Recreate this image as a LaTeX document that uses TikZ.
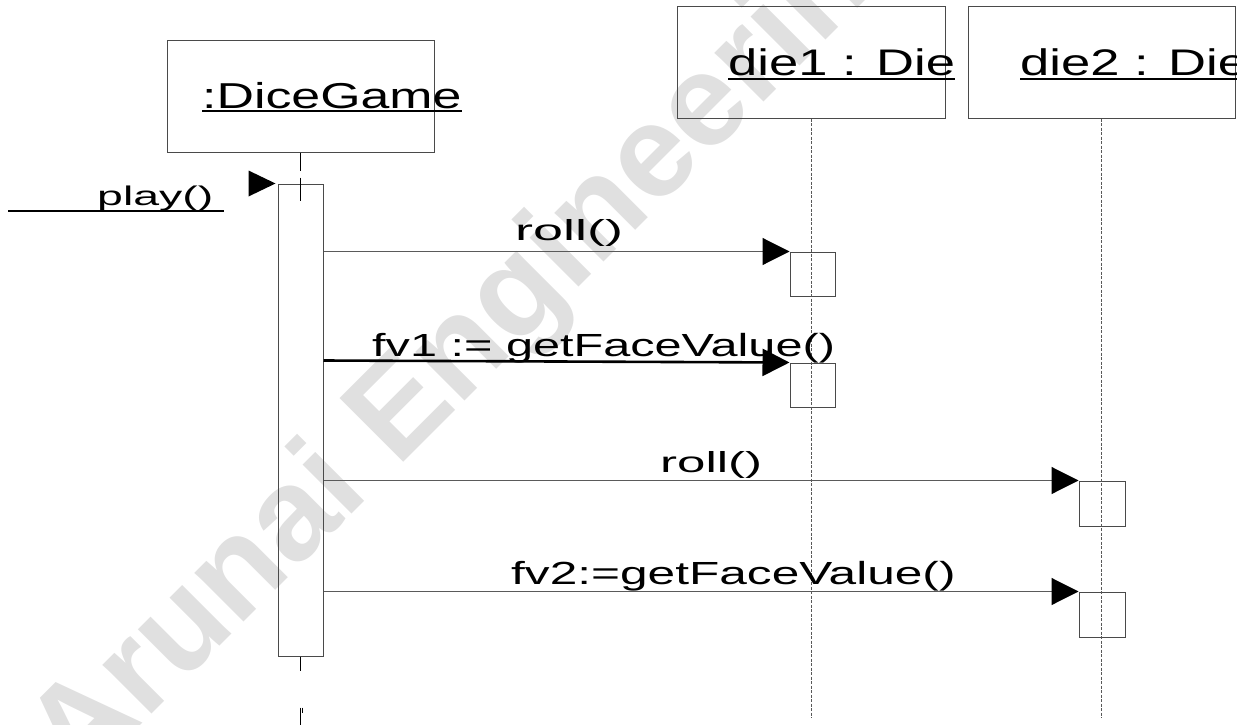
\documentclass[tikz,border=0pt]{standalone}
\usepackage{fontspec}
\setmainfont{Liberation Sans}
\usetikzlibrary{arrows.meta,calc}
\newcommand\hsq[2]{\scalebox{#1}[1]{#2}}
\definecolor{boxline}{HTML}{4A4A4A}
\definecolor{msgline}{HTML}{5A5A5A}
\definecolor{wmgray}{HTML}{E0E0E0}
\begin{document}
\begin{tikzpicture}[x=1pt,y=-1pt,
  objbox/.style={draw=boxline, line width=1pt, inner sep=0pt},
  txt/.style={inner sep=0pt, anchor=base west, text=black},
  uline/.style={line width=2.8pt, black},
  msg/.style={draw=msgline, line width=1.1pt, -{Triangle[length=27pt,width=27pt,black]}},
  msgbold/.style={draw=black, line width=2.6pt, -{Triangle[length=27pt,width=27pt,black]}},
  lifeline/.style={draw=black!65, line width=0.8pt, dash pattern=on 3pt off 1.5pt},
  gline/.style={draw=black, line width=1pt}]
\useasboundingbox (0,0) rectangle (1237,725);
\clip (0,0) rectangle (1237,725);
% watermark
\node[rotate=45, anchor=base west, inner sep=0pt, text=wmgray,
      font=\fontsize{131pt}{136pt}\selectfont\bfseries] (wm) at (78,788) {Arunai Engineering};
% object boxes
\node[objbox, minimum width=267pt, minimum height=111pt] (dg) at (300.5,96.5) {};
\node[objbox, minimum width=268pt, minimum height=111pt] (d1) at (811,62.5) {};
\node[objbox, minimum width=267pt, minimum height=111pt] (d2) at (1101.5,62.5) {};
% object names
\node[txt, font=\fontsize{36pt}{40pt}\selectfont] (dgt) at (202,108) {\hsq{1.44}{:DiceGame}};
\node[txt, font=\fontsize{37pt}{40pt}\selectfont] (d1t) at (728,75) {\hsq{1.42}{die1 : Die}};
\node[txt, font=\fontsize{37pt}{40pt}\selectfont] (d2t) at (1020,75) {\hsq{1.42}{die2 : Die}};
\draw[uline] ($(dgt.base west)+(0,3)$) -- ($(dgt.base east)+(0,3)$);
\draw[uline] ($(d1t.base west)+(0,4)$) -- ($(d1t.base east)+(0,4)$);
\draw[uline] ($(d2t.base west)+(0,4)$) -- ($(d2t.base east)+(0,4)$);
% activations
\node[objbox, minimum width=45pt, minimum height=472pt] (act) at (300.5,420) {};
\node[objbox, minimum width=45pt, minimum height=44pt] (a1) at (812.5,274) {};
\node[objbox, minimum width=45pt, minimum height=44pt] (a2) at (812.5,385) {};
\node[objbox, minimum width=46pt, minimum height=45pt] (a3) at (1102,503.5) {};
\node[objbox, minimum width=46pt, minimum height=45pt] (a4) at (1102,614.5) {};
% lifelines
\coordinate (e1) at (812,718);
\coordinate (e2) at (1102,718);
\draw[lifeline] (d1.south) -- (d1.south |- e1);
\draw[lifeline] (d2.south) -- (d2.south |- e2);
\draw[gline] (dg.south) -- ++(0,18);
\draw[gline] ($(dg.south)+(0,25)$) -- ++(0,23);
\draw[gline] (act.south) -- ++(0,14);
\draw[gline] ($(act.south)+(0,51)$) -- ++(0,20);
\draw[gline] ($(act.south)+(2,51)$) -- ++(0,5);
% found message play()
\node[txt, font=\fontsize{27pt}{30pt}\selectfont] (play) at (97,205) {\hsq{1.72}{play()}};
\coordinate (pl0) at (8,211);
\draw[uline, line width=2.5pt] (pl0) -- ($(play.base east)+(10,6)$);
\fill[black] ($(act.north west)+(-2,0)$) -- ++(-27,-13) -- ++(0,26) -- cycle;
% messages
\draw[msg] (act.east |- a1.north west) -- (a1.north west);
\node[txt, font=\fontsize{29pt}{32pt}\selectfont] (m1) at (515,240) {\hsq{1.86}{roll()}};
\draw[msgbold] ($(act.east |- a2.north west)+(0,-2)$) -- (a2.north west);
\node[txt, font=\fontsize{32pt}{36pt}\selectfont] (m2) at (372,356) {\hsq{1.52}{fv1 := getFaceValue()}};
\draw[msg] (act.east |- a3.north west) -- (a3.north west);
\node[txt, font=\fontsize{29pt}{32pt}\selectfont] (m3) at (660,472) {\hsq{1.76}{roll()}};
\draw[msg] (act.east |- a4.north west) -- (a4.north west);
\node[txt, font=\fontsize{32pt}{36pt}\selectfont] (m4) at (511,584) {\hsq{1.55}{fv2:=getFaceValue()}};
\end{tikzpicture}
\end{document}
